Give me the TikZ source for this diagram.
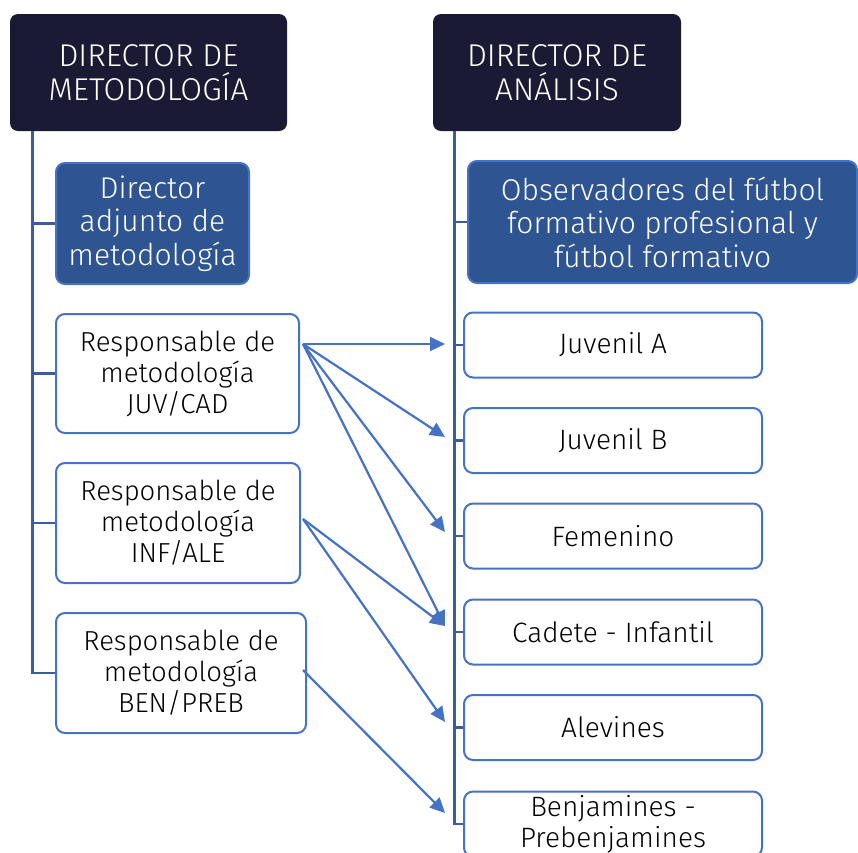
\documentclass[tikz,border=0pt]{standalone}
\usepackage{fontspec}
\setmainfont{Fira Sans}[UprightFont=* Light]
\usetikzlibrary{arrows.meta,calc}
\definecolor{navy}{HTML}{1B1A34}
\definecolor{midblue}{HTML}{2E5592}
\definecolor{edgeblue}{HTML}{4472C4}
\definecolor{trunkblue}{HTML}{3A5DA0}
\begin{document}
\begin{tikzpicture}[x=1pt,y=-1pt,
  headbox/.style={fill=navy, rounded corners=8pt, text=white, align=center, inner sep=0pt,
    font=\fontsize{31.5}{33.5}\selectfont},
  subbox/.style={fill=midblue, draw=edgeblue, line width=2pt, rounded corners=9pt, text=white, align=center, inner sep=0pt,
    font=\fontsize{30}{33.5}\selectfont},
  whitebox/.style={fill=white, draw=edgeblue, line width=2pt, rounded corners=9pt, text=black, align=center, inner sep=0pt,
    font=\fontsize{27.5}{31}\selectfont},
  catbox/.style={whitebox, minimum width=298pt, minimum height=65pt, font=\fontsize{28}{31}\selectfont},
  trunk/.style={draw=trunkblue, line width=2.8pt},
  linkarrow/.style={draw=edgeblue, line width=2.2pt, -{Triangle[length=15pt,width=14pt]}}
]
\useasboundingbox (0,0) rectangle (858,852);
\clip (0,0) rectangle (858,852);

% left column
\node[headbox, minimum width=277pt, minimum height=117pt] (dm) at (148.5,72.5) {DIRECTOR DE\\METODOLOGÍA};
\node[subbox, minimum width=193pt, minimum height=121pt] (adj) at (152.5,223.5) {Director\\adjunto de\\metodología};
\node[whitebox, minimum width=243pt, minimum height=119pt] (rjc) at (177.5,373.5) {Responsable de\\metodología\\JUV/CAD};
\node[whitebox, minimum width=244pt, minimum height=120pt] (ria) at (178,523) {Responsable de\\metodología\\INF/ALE};
\node[whitebox, minimum width=250pt, minimum height=120pt] (rbp) at (181,673) {Responsable de\\metodología\\BEN/PREB};

% right column
\node[headbox, minimum width=248pt, minimum height=117pt] (da) at (557,72.5) {DIRECTOR DE\\ANÁLISIS};
\node[subbox, minimum width=389pt, minimum height=122pt] (obs) at (662.5,222) {Observadores del fútbol\\formativo profesional y\\fútbol formativo};
\node[catbox] (ja) at (613,345) {Juvenil A};
\node[catbox] (jb) at (613,440.5) {Juvenil B};
\node[catbox] (fem) at (613,536) {Femenino};
\node[catbox] (cad) at (613,632) {Cadete - Infantil};
\node[catbox] (alev) at (613,727.5) {Alevines};
\node[catbox] (benj) at (613,824) {Benjamines -\\Prebenjamines};

% trunks
\coordinate (lt) at ($(dm.south west)+(23,0)$);
\draw[trunk] (lt) |- (rbp.west);
\foreach \n in {adj,rjc,ria} \draw[trunk] (lt |- \n.west) -- (\n.west);
\coordinate (rt) at ($(da.south west)+(22,0)$);
\draw[trunk] (rt) |- (benj.west);
\foreach \n in {obs,ja,jb,fem,cad,alev} \draw[trunk] (rt |- \n.west) -- (\n.west);

% arrows
\coordinate (s1) at ($(rjc.east)+(3,-29.5)$);
\coordinate (s2) at ($(ria.east)+(2,-4)$);
\coordinate (s3) at ($(rbp.east)+(-4,-3)$);
\draw[linkarrow] (s1) -- ($(ja.west)+(-18,-1)$);
\draw[linkarrow] (s1) -- ($(jb.west)+(-18,-3.5)$);
\draw[linkarrow] (s1) -- ($(fem.west)+(-18,-4)$);
\draw[linkarrow] (s1) -- ($(cad.west)+(-18,-6)$);
\draw[linkarrow] (s2) -- ($(cad.west)+(-18,-6)$);
\draw[linkarrow] (s2) -- ($(alev.west)+(-18,-5.5)$);
\draw[linkarrow] (s3) -- ($(benj.west)+(-18,-11)$);
\end{tikzpicture}
\end{document}
